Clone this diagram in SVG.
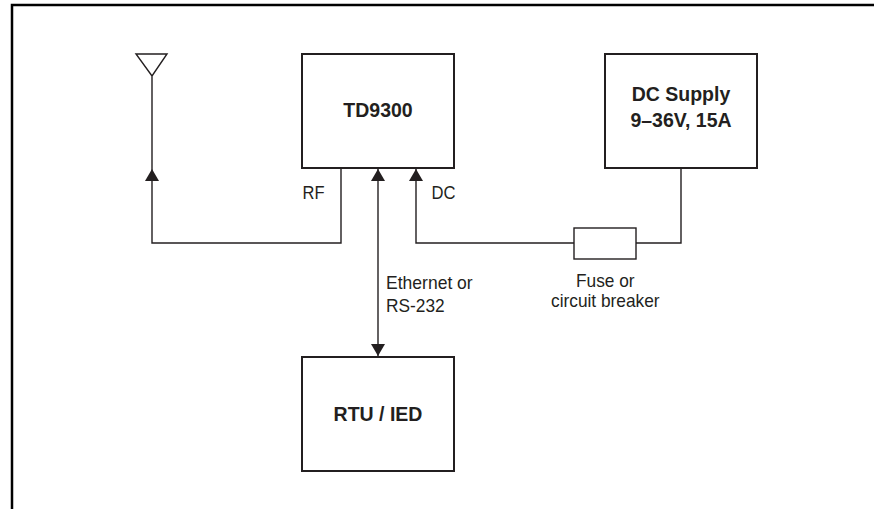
<svg xmlns="http://www.w3.org/2000/svg" width="874" height="509" viewBox="0 0 874 509">
<style>
.frame{fill:none;stroke:#000;stroke-width:2.5}
.box{fill:#fff;stroke:#231f20;stroke-width:2}
.line{fill:none;stroke:#231f20;stroke-width:1.4}
.bold{font-family:"Liberation Sans",Arial,sans-serif;font-weight:bold;font-size:19.5px;fill:#231f20;text-anchor:middle}
.lbl{font-family:"Liberation Sans",Arial,sans-serif;font-size:19px;fill:#231f20}
</style>
<defs>
<marker id="arr" viewBox="0 0 12 14" refX="12" refY="7" markerWidth="12" markerHeight="14" markerUnits="userSpaceOnUse" orient="auto-start-reverse">
<path d="M0,0 L12,7 L0,14 Z" fill="#231f20"/>
</marker>
</defs>
<path class="frame" d="M12,509 V5 H874"/>
<g id="connectors">
<path class="line" d="M341,168 V243 H152 V169" marker-end="url(#arr)"/>
<path class="line" d="M378,169 V356" marker-start="url(#arr)" marker-end="url(#arr)"/>
<path class="line" d="M574,243 H416 V169" marker-end="url(#arr)"/>
<path class="line" d="M636,243 H681 V168"/>
</g>
<g id="antenna">
<path class="line" d="M136,54 H167 L152,76 Z M152,76 V169"/>
</g>
<g id="td9300">
<rect class="box" x="302" y="54" width="152" height="114"/>
<text class="bold" x="378" y="117">TD9300</text>
</g>
<g id="dcsupply">
<rect class="box" x="605" y="54" width="152" height="114"/>
<text class="bold" x="681" y="101">DC Supply</text>
<text class="bold" x="681" y="127">9–36V, 15A</text>
</g>
<g id="rtu">
<rect class="box" x="302" y="357" width="152" height="114"/>
<text class="bold" x="378" y="420.5">RTU / IED</text>
</g>
<g id="fuse">
<rect class="box" x="574" y="228" width="62" height="31" style="stroke-width:1.4"/>
<text class="lbl" x="576" y="287" textLength="58.6" lengthAdjust="spacingAndGlyphs">Fuse or</text>
<text class="lbl" x="551" y="307" textLength="108.6" lengthAdjust="spacingAndGlyphs">circuit breaker</text>
</g>
<g id="labels">
<text class="lbl" x="302.5" y="198.5" textLength="22" lengthAdjust="spacingAndGlyphs">RF</text>
<text class="lbl" x="431.5" y="198.5" textLength="24" lengthAdjust="spacingAndGlyphs">DC</text>
<text class="lbl" x="386" y="289" textLength="86.7" lengthAdjust="spacingAndGlyphs">Ethernet or</text>
<text class="lbl" x="386" y="311.5" textLength="58.7" lengthAdjust="spacingAndGlyphs">RS-232</text>
</g>
</svg>
